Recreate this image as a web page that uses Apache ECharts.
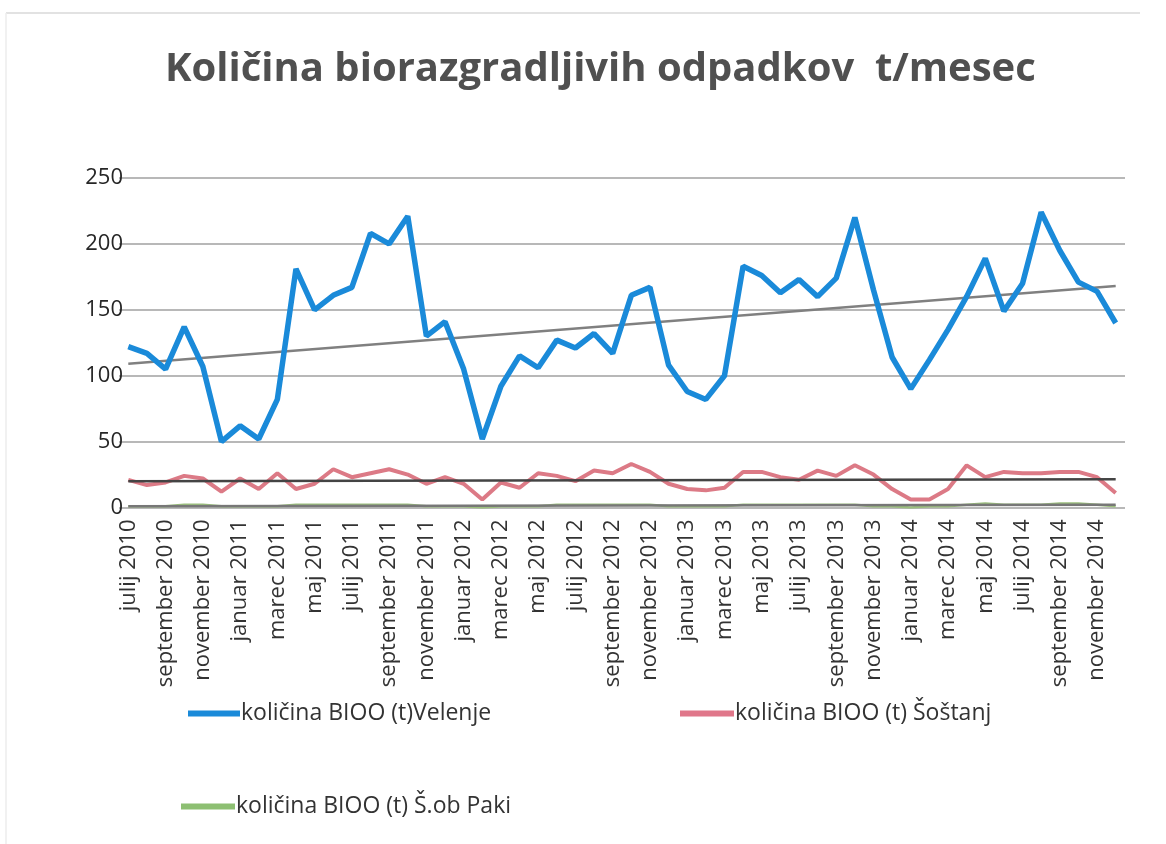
<!DOCTYPE html>
<html>
<head>
<meta charset="utf-8">
<script src="https://cdn.jsdelivr.net/npm/echarts@6/dist/echarts.min.js"></script>
<style>
html,body{margin:0;padding:0;background:#fff;}
#c{width:1166px;height:844px;}
</style>
</head>
<body>
<div id="c"></div>
<script>
const months = ['januar','februar','marec','april','maj','junij','julij','avgust','september','oktober','november','december'];
const categories = [];
for (let y = 2010; y <= 2014; y++) {
  for (let m = 0; m < 12; m++) {
    if (y === 2010 && m < 6) continue;
    categories.push(months[m] + ' ' + y);
  }
}
const velenje = [122,117,105,137,107,50,62,52,82,181,150,161,167,208,200,221,130,
  141,105,52,92,115,106,127,121,132,117,161,167,108,88,82,100,183,176,163,
  173,160,174,220,165,114,90,112,135,160,189,149,170,224,195,171,164,140];
const sostanj = [21,17,19,24,22,12,22,14,26,14,18,29,23,26,29,25,18,
  23,18,6,19,15,26,24,20,28,26,33,27,18,14,13,15,27,27,23,
  21,28,24,32,25,14,6,6,14,32,23,27,26,26,27,27,23,11];
const paki = [1,1,1,2,2,1,1,1,1,2,2,2,2,2,2,2,1,
  1,1,0,1,1,1,2,2,2,2,2,2,1,1,1,1,2,2,2,
  2,2,2,2,1,1,0,1,1,2,3,2,2,2,3,3,2,1];
const yTicks = [0,50,100,150,200,250];
// trend lines: [start value, end value]
const trendVelenje = [109, 168];
const trendSostanj = [20, 21.5];
const trendPaki = [1, 2];

const names = ['količina BIOO (t)Velenje','količina BIOO (t) Šoštanj','količina BIOO (t) Š.ob Paki'];
const first = categories[0], last = categories[categories.length-1];
function trend(vals, color, w){
  return {
    silent: true, symbol: ['none','none'],
    lineStyle: {color: color, width: w, type: 'solid'},
    label: {show: false},
    data: [[{coord: [first, vals[0]]}, {coord: [last, vals[1]]}]]
  };
}
const chart = echarts.init(document.getElementById('c'), null, {renderer:'canvas'});
const legendText = {fontFamily:'Open Sans', fontSize: 23, color:'#333333', padding: [0,0,0,-4]};
chart.setOption({
  animation: false,
  backgroundColor: '#fff',
  title: {
    text: 'Količina biorazgradljivih odpadkov  t/mesec',
    left: 160, top: 45,
    textStyle: {fontFamily:'Open Sans', fontWeight:'bold', fontSize: 40, color:'#505050'}
  },
  graphic: [
    {type:'line', shape:{x1:6, y1:13, x2:1140, y2:13}, style:{stroke:'#e2e2e2', lineWidth:2}},
    {type:'line', shape:{x1:6, y1:13, x2:6, y2:844}, style:{stroke:'#ececec', lineWidth:1.5}}
  ],
  grid: {left: 119, right: 41, top: 178, height: 329.5, containLabel: false},
  legend: [
    {data:[names[0]], left: 183, top: 697, itemWidth: 52, itemHeight: 6, itemGap: 0, textStyle: legendText, icon: 'rect'},
    {data:[names[1]], left: 675, top: 697, itemWidth: 54, itemHeight: 6, itemGap: 0, textStyle: legendText, icon: 'rect'},
    {data:[names[2]], left: 176, top: 790, itemWidth: 54, itemHeight: 6, itemGap: 0, textStyle: legendText, icon: 'rect'}
  ],
  xAxis: {
    type: 'category', data: categories, boundaryGap: true,
    axisLine: {show: false}, axisTick: {show: false},
    axisLabel: {interval: 1, rotate: 90, fontFamily:'Open Sans', fontSize: 22, color:'#333333', margin: 12}
  },
  yAxis: {
    type: 'value', min: 0, max: 250, interval: 50,
    axisLine: {show:false}, axisTick: {show:false},
    axisLabel: {fontFamily:'Open Sans', fontSize: 22, color:'#262626', margin: -4, formatter: v => yTicks.includes(v) ? String(v) : ''},
    splitLine: {lineStyle: {color:'#b8b8b8', width: 2}}
  },
  series: [
    {name: names[0], type:'line', data: velenje, symbol:'none', lineStyle:{color:'#1a8ad9', width:5.5}, itemStyle:{color:'#1a8ad9'}, z: 5,
     markLine: trend(trendVelenje, '#808080', 2.5)},
    {name: names[1], type:'line', data: sostanj, symbol:'none', lineStyle:{color:'#dc7a86', width:4}, itemStyle:{color:'#e0778a'}, z: 4,
     markLine: trend(trendSostanj, '#444444', 2.5)},
    {name: names[2], type:'line', data: paki, symbol:'none', lineStyle:{color:'#9cc07e', width:2.5}, itemStyle:{color:'#8dbf72'}, z: 3,
     markLine: trend(trendPaki, '#777777', 2.5)}
  ]
});
</script>
</body>
</html>
